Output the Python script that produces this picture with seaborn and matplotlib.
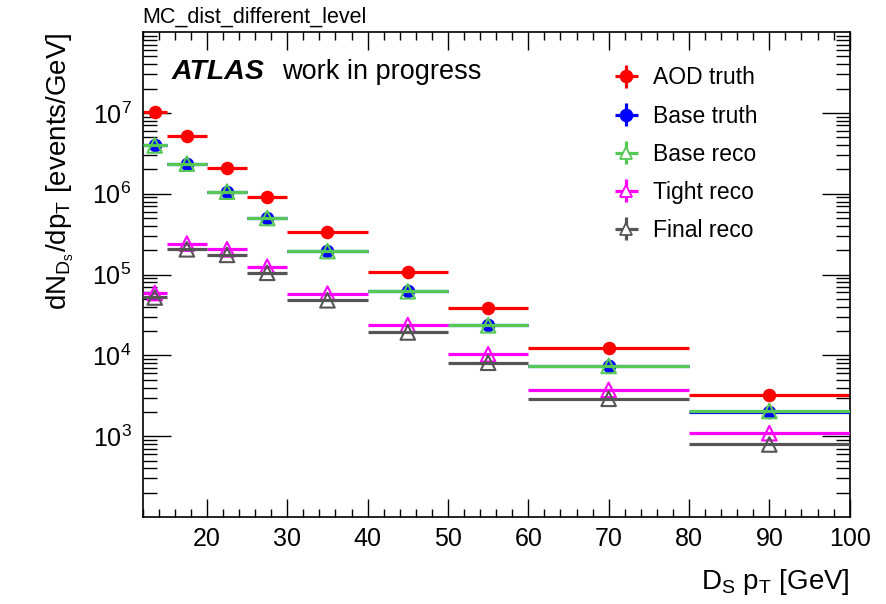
import numpy as np
import pandas as pd
import matplotlib
matplotlib.use("Agg")
import matplotlib.pyplot as plt
from matplotlib.lines import Line2D
from matplotlib.ticker import MultipleLocator, LogLocator, NullFormatter
import seaborn as sns

# ---- data ----
bin_lo = [12, 15, 20, 25, 30, 40, 50, 60, 80]
bin_hi = [15, 20, 25, 30, 40, 50, 60, 80, 100]
series_names = ["AOD truth", "Base truth", "Base reco", "Tight reco", "Final reco"]
aod_truth = [1.03e7, 5.1e6, 2.07e6, 9.2e5, 3.4e5, 1.06e5, 3.85e4, 1.22e4, 3.2e3]
base_truth = [3.95e6, 2.35e6, 1.06e6, 5.0e5, 1.95e5, 6.2e4, 2.35e4, 7.3e3, 2.0e3]
base_reco = [3.95e6, 2.35e6, 1.06e6, 5.0e5, 1.95e5, 6.2e4, 2.35e4, 7.4e3, 2.05e3]
tight_reco = [5.9e4, 2.41e5, 2.05e5, 1.25e5, 5.8e4, 2.37e4, 1.03e4, 3.74e3, 1.09e3]
final_reco = [5.2e4, 2.05e5, 1.75e5, 1.05e5, 4.8e4, 1.92e4, 8.1e3, 2.9e3, 7.9e2]
ytick_vals = [1e3, 1e4, 1e5, 1e6, 1e7]

values = [aod_truth, base_truth, base_reco, tight_reco, final_reco]
colors = ["#ff0000", "#0000ff", "#55c855", "#ff00ff", "#555555"]
markers = ["o", "o", "^", "^", "^"]
filled = [True, True, False, False, False]

sns.set_style("ticks")
plt.rcParams["font.family"] = ["Liberation Sans", "DejaVu Sans"]
plt.rcParams["mathtext.fontset"] = "custom"
plt.rcParams["mathtext.rm"] = "Liberation Sans"
plt.rcParams["mathtext.it"] = "Liberation Sans:italic"
plt.rcParams["mathtext.bf"] = "Liberation Sans:bold"
for k in ["text.color", "axes.labelcolor", "xtick.color", "ytick.color", "axes.edgecolor"]:
    plt.rcParams[k] = "black"

fig = plt.figure(figsize=(8.86, 6.04), dpi=100)
ax = fig.add_axes([0.161, 0.144, 0.798, 0.803])

lo = np.array(bin_lo, float)
hi = np.array(bin_hi, float)
xc = (lo + hi) / 2
xerr = (hi - lo) / 2

handles = []
for i, (name, vals, c, m, f) in enumerate(zip(series_names, values, colors, markers, filled)):
    v = np.array(vals, float)
    eb = ax.errorbar(xc, v, xerr=xerr, yerr=np.zeros_like(v), fmt="none",
                     ecolor=c, elinewidth=2.3, capsize=0, zorder=2 + 2 * i)
    df = pd.DataFrame({"x": xc, "y": v})
    if f:
        sns.scatterplot(data=df, x="x", y="y", ax=ax, marker=m, s=95,
                        color=c, edgecolor=c, linewidth=0, zorder=3 + 2 * i, legend=False)
    else:
        sns.scatterplot(data=df, x="x", y="y", ax=ax, marker=m, s=110,
                        facecolor="none", edgecolor=c, linewidth=1.5, zorder=3 + 2 * i, legend=False)
    proxy = Line2D([], [], marker=m, linestyle="none", markersize=8.5,
                   markerfacecolor=(c if f else "white"), markeredgecolor=c, markeredgewidth=1.3)
    handles.append((eb, proxy))

ax.set_yscale("log")
ax.set_xlim(12, 100)
ax.set_ylim(1.0e2, 1.0e8)

ax.xaxis.set_major_locator(MultipleLocator(10))
ax.xaxis.set_minor_locator(MultipleLocator(2))
ax.set_yticks(ytick_vals)
ax.yaxis.set_minor_locator(LogLocator(base=10, subs=np.arange(2, 10), numticks=20))
ax.yaxis.set_minor_formatter(NullFormatter())

ax.tick_params(which="both", direction="in", top=True, right=True, width=1.0, color="black")
ax.tick_params(axis="x", which="major", length=13, labelsize=18, pad=7)
ax.tick_params(axis="x", which="minor", length=6)
ax.tick_params(axis="y", which="major", length=20, labelsize=18, pad=8)
ax.tick_params(axis="y", which="minor", length=10)

for s in ax.spines.values():
    s.set_linewidth(1.2)
    s.set_color("black")

ax.set_xlabel(r"D$_\mathregular{S}$ p$_\mathregular{T}$ [GeV]", fontsize=20, loc="right", labelpad=12)
ax.set_ylabel(r"dN$_{\mathregular{D_{s}}}$/dp$_\mathregular{T}$ [events/GeV]", fontsize=20, loc="top", labelpad=12)

fig.text(0.161, 0.962, "MC_dist_different_level", fontsize=15.5, ha="left", va="baseline")
ax.text(0.041, 0.918, "ATLAS", transform=ax.transAxes, fontsize=20.5, fontweight="bold",
        fontstyle="italic", ha="left", va="center")
ax.text(0.197, 0.918, "work in progress", transform=ax.transAxes, fontsize=19.5,
        ha="left", va="center")

leg = ax.legend(handles, series_names, loc="upper left", bbox_to_anchor=(0.658, 0.929),
                frameon=False, fontsize=16.5, handlelength=1.6, labelspacing=0.66,
                handletextpad=0.35, borderaxespad=0, borderpad=0)

fig.savefig("out.png", dpi=100)
